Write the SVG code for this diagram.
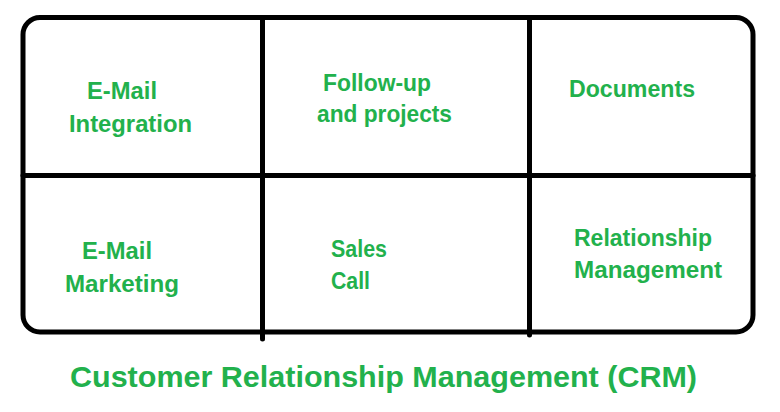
<svg xmlns="http://www.w3.org/2000/svg" width="780" height="412" viewBox="0 0 780 412">
<style>
.ln{stroke:#000;stroke-width:5;fill:none;stroke-linecap:round}
.t{font-family:"Liberation Sans",Arial,sans-serif;font-weight:bold;fill:#22b14c;font-size:24px}
.title{font-size:29.5px}
</style>
<rect width="780" height="412" fill="#fff"/>
<g id="connectors">
<rect class="ln" x="23" y="17.5" width="730" height="314.5" rx="17" ry="17"/>
<line class="ln" x1="262.5" y1="17.5" x2="262.5" y2="339"/>
<line class="ln" x1="529.5" y1="17.5" x2="529.5" y2="335"/>
<line class="ln" x1="23" y1="175.5" x2="753" y2="175.5"/>
</g>
<g id="email-integration">
<text class="t" x="87" y="99" textLength="70" lengthAdjust="spacingAndGlyphs">E-Mail</text>
<text class="t" x="69" y="132" textLength="123" lengthAdjust="spacingAndGlyphs">Integration</text>
</g>
<g id="follow-up">
<text class="t" x="323" y="91" textLength="108" lengthAdjust="spacingAndGlyphs">Follow-up</text>
<text class="t" x="317" y="122" textLength="135" lengthAdjust="spacingAndGlyphs">and projects</text>
</g>
<g id="documents">
<text class="t" x="569" y="97" textLength="126" lengthAdjust="spacingAndGlyphs">Documents</text>
</g>
<g id="email-marketing">
<text class="t" x="82" y="259" textLength="70" lengthAdjust="spacingAndGlyphs">E-Mail</text>
<text class="t" x="65" y="292" textLength="114" lengthAdjust="spacingAndGlyphs">Marketing</text>
</g>
<g id="sales-call">
<text class="t" x="331" y="257" textLength="56" lengthAdjust="spacingAndGlyphs">Sales</text>
<text class="t" x="331" y="289" textLength="39" lengthAdjust="spacingAndGlyphs">Call</text>
</g>
<g id="relationship-management">
<text class="t" x="574" y="246" textLength="138" lengthAdjust="spacingAndGlyphs">Relationship</text>
<text class="t" x="574" y="278" textLength="148" lengthAdjust="spacingAndGlyphs">Management</text>
</g>
<g id="title">
<text class="t title" x="70" y="387" textLength="627" lengthAdjust="spacingAndGlyphs">Customer Relationship Management (CRM)</text>
</g>
</svg>
